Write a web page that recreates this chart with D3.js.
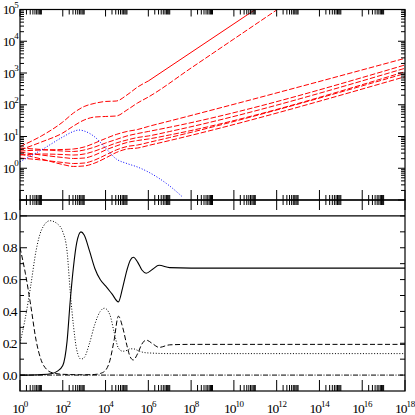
<!DOCTYPE html>
<html>
<head>
<meta charset="utf-8">
<script src="https://cdn.jsdelivr.net/npm/d3@7"></script>
<style>
body { margin: 0; background: #fff; }
svg text { font-family: "Liberation Serif", "DejaVu Serif", serif; fill: #000; }
</style>
</head>
<body>
<svg id="chart" width="415" height="415"></svg>
<script>
// ---- top panel (log-log) ----
var xBundle = [1, 10, 100, 316, 1000, 3162, 1e4, 3.16e4, 1e5, 3.16e5, 1e6, 1e7, 1e18];
var yC1 = [3.49, 3.76, 3.90, 4.04, 4.67, 6.24, 8.65, 11.6, 14.4, 16.6, 20.7, 30.8, 2900];
var yC2 = [4.34, 3.90, 3.49, 3.37, 3.76, 4.67, 6.24, 8.05, 10.4, 12.4, 14.4, 19.6, 1790];
var yC3 = [2.61, 2.81, 2.71, 2.61, 2.81, 3.49, 4.67, 6.24, 7.76, 9.30, 10.4, 14.4, 1410];
var yC4 = [3.25, 2.61, 2.18, 2.03, 2.10, 2.61, 3.76, 5.02, 6.47, 7.48, 8.34, 11.2, 1100];
var yC5 = [2.10, 1.82, 1.52, 1.41, 1.46, 1.82, 2.61, 3.76, 4.84, 5.40, 6.47, 9.30, 964];
var yC6 = [2.81, 1.96, 1.31, 1.14, 1.18, 1.46, 2.10, 3.13, 4.04, 4.34, 5.21, 7.48, 764];

var xUpperA = [1, 10, 100, 316, 1000, 3162, 1e4, 3.16e4, 1e5, 3.16e5, 1e6];
var yUpperA = [4.84, 10.4, 28.6, 55.0, 88.1, 111, 127, 131, 203, 362, 560];
var xUpperB = [1, 10, 100, 316, 1000, 3162, 1e4, 3.16e4, 1e5, 3.16e5, 1e6, 1e8, 1e10, 1e13];
var yUpperB = [3.76, 6.71, 12.9, 21.4, 33.1, 41.1, 42.7, 44.2, 68.3, 114, 175, 1437, 11770, 2.76e5];
var xSolidRed = [1e6, 1e12];
var ySolidRed = [560, 2.82e5];

var xBlue = [1, 10, 100, 316, 562, 1000, 3162, 1e4, 3.16e4, 1e5, 3.16e5, 1e6, 1e7, 4e7];
var yBlue = [1.61, 3.76, 9.64, 14.4, 16.0, 14.9, 9.64, 4.34, 1.96, 1.41, 1.09, 0.762, 0.276, 0.124];

// ---- bottom panel (fractions) ----
var xSolidK = [1, 10, 31.6, 56.2, 100, 158, 224, 316, 447, 708, 1000, 1778, 3162, 5623, 1e4, 19953,
  39811, 63096, 1e5, 141254, 199526, 316228, 501187, 794328, 1584893, 3162278, 1e7, 1e8, 1e18];
var ySolidK = [0.0, 0.003, 0.01, 0.025, 0.06, 0.21, 0.47, 0.68, 0.83, 0.90, 0.88, 0.78, 0.67, 0.60, 0.56, 0.51,
  0.46, 0.55, 0.66, 0.72, 0.74, 0.71, 0.66, 0.64, 0.665, 0.69, 0.675, 0.672, 0.672];

var xDotK = [1, 1.78, 3.16, 5.62, 10, 25.1, 56.2, 100, 158, 224, 316, 447, 708, 1000, 1778, 3162, 5623, 8913,
  15849, 25119, 39811, 63096, 1e5, 141254, 199526, 316228, 501187, 794328, 1584893, 3162278, 1e7, 1e18];
var yDotK = [0.20, 0.36, 0.56, 0.78, 0.91, 0.97, 0.95, 0.90, 0.78, 0.52, 0.31, 0.16, 0.10, 0.11, 0.20, 0.32, 0.40, 0.42,
  0.38, 0.27, 0.17, 0.15, 0.155, 0.165, 0.165, 0.155, 0.145, 0.14, 0.138, 0.136, 0.135, 0.135];

var xDashK = [1, 1.78, 3.16, 5.62, 10, 17.8, 31.6, 100, 1000, 3162, 5623, 1e4, 15849, 25119, 39811, 63096, 1e5,
  141254, 199526, 316228, 501187, 794328, 1584893, 3162278, 1e7, 1e8, 1e18];
var yDashK = [0.80, 0.64, 0.44, 0.22, 0.09, 0.035, 0.015, 0.005, 0.002, 0.004, 0.01, 0.03, 0.09, 0.22, 0.37, 0.30, 0.185,
  0.115, 0.095, 0.135, 0.195, 0.22, 0.197, 0.174, 0.19, 0.193, 0.193];

var xFlat = [1, 1e18];
var yZero = [0, 0];
var yOne = [1, 1];

// axis labels
var xLabelExp = ["0", "2", "4", "6", "8", "10", "12", "14", "16", "18"];
var yTopLabelExp = ["0", "1", "2", "3", "4", "5"];
var yBotLabels = ["0.0", "0.2", "0.4", "0.6", "0.8", "1.0"];

var left = 20, right = 405, topY = 9.5, midY = 200, botY = 391;

var x = d3.scaleLog().domain([1, 1e18]).range([left, right]);
var yTop = d3.scaleLog().domain([0.1, 1e5]).range([midY, topY]);
var yBot = d3.scaleLinear().domain([-0.1, 1.1]).range([botY, midY]);

var svg = d3.select("#chart");
var defs = svg.append("defs");
defs.append("clipPath").attr("id", "clipTop").append("rect")
  .attr("x", left).attr("y", topY).attr("width", right - left).attr("height", midY - topY);
defs.append("clipPath").attr("id", "clipBot").append("rect")
  .attr("x", left).attr("y", midY).attr("width", right - left).attr("height", botY - midY);

function drawLine(g, xs, ys, yScale, color, width, dash) {
  var line = d3.line()
    .x(function(d) { return x(d[0]); })
    .y(function(d) { return yScale(d[1]); })
    .curve(d3.curveMonotoneX);
  g.append("path")
    .datum(d3.zip(xs, ys))
    .attr("d", line)
    .attr("fill", "none")
    .attr("stroke", color)
    .attr("stroke-width", width)
    .attr("stroke-dasharray", dash);
}

// top panel curves
var gTop = svg.append("g").attr("clip-path", "url(#clipTop)");
var red = "#ff0000", redDash = "5.5,2";
[yC1, yC2, yC3, yC4, yC5, yC6].forEach(function(ys) {
  drawLine(gTop, xBundle, ys, yTop, red, 1, redDash);
});
drawLine(gTop, xUpperA, yUpperA, yTop, red, 1, redDash);
drawLine(gTop, xUpperB, yUpperB, yTop, red, 1, redDash);
drawLine(gTop, xSolidRed, ySolidRed, yTop, red, 1, null);
drawLine(gTop, xBlue, yBlue, yTop, "#0000ff", 1, "1,1.8");

// bottom panel curves
var gBot = svg.append("g").attr("clip-path", "url(#clipBot)");
drawLine(gBot, xFlat, yOne, yBot, "#000", 1.4, null);
drawLine(gBot, xFlat, yZero, yBot, "#000", 1, "5,1.5,1,1.5");
drawLine(gBot, xDotK, yDotK, yBot, "#000", 1, "1,1.8");
drawLine(gBot, xDashK, yDashK, yBot, "#000", 1, "5,2.5");
drawLine(gBot, xSolidK, ySolidK, yBot, "#000", 1.1, null);

// ticks
var xMajor = [], xMinor = [];
for (var n = 0; n <= 18; n += 2) xMajor.push(Math.pow(10, n));
for (var n2 = 0; n2 < 18; n2 += 2)
  for (var k = 2; k <= 10; k++) xMinor.push(k * Math.pow(10, n2));

var yTopMajor = [], yTopMinor = [];
for (var e = -1; e <= 5; e++) yTopMajor.push(Math.pow(10, e));
for (var e2 = -1; e2 < 5; e2++)
  for (var k2 = 2; k2 <= 9; k2++) yTopMinor.push(k2 * Math.pow(10, e2));

var yBotMajor = [0, 0.2, 0.4, 0.6, 0.8, 1.0];
var yBotMinor = [0.1, 0.3, 0.5, 0.7, 0.9];

var gAx = svg.append("g").attr("stroke", "#000").attr("stroke-width", 1);
function xTicks(y, vals, up, down) {
  gAx.append("g").selectAll("line").data(vals).enter().append("line")
    .attr("x1", function(d) { return x(d); }).attr("x2", function(d) { return x(d); })
    .attr("y1", y - up).attr("y2", y + down);
}
function yTicks(scale, vals, xPos, len) {
  gAx.append("g").selectAll("line").data(vals).enter().append("line")
    .attr("y1", function(d) { return scale(d); }).attr("y2", function(d) { return scale(d); })
    .attr("x1", xPos).attr("x2", xPos + len);
}

xTicks(topY, xMajor, 0, 7);
xTicks(topY, xMinor, 0, 5);
xTicks(midY, xMajor, 10, 10);
xTicks(midY, xMinor, 5, 5);
xTicks(botY, xMajor, 11, 0);
xTicks(botY, xMinor, 6, 0);

yTicks(yTop, yTopMajor, left, 7);
yTicks(yTop, yTopMinor, left, 4);
yTicks(yTop, yTopMajor, right, -7);
yTicks(yTop, yTopMinor, right, -4);

yTicks(yBot, yBotMajor, left, 7);
yTicks(yBot, yBotMinor, left, 4);
yTicks(yBot, yBotMajor.concat(yBotMinor), right, -5);

// frames
svg.append("rect").attr("x", left).attr("y", topY).attr("width", right - left).attr("height", midY - topY)
  .attr("fill", "none").attr("stroke", "#000").attr("stroke-width", 1.2);
svg.append("rect").attr("x", left).attr("y", midY).attr("width", right - left).attr("height", botY - midY)
  .attr("fill", "none").attr("stroke", "#000").attr("stroke-width", 1.2);

// labels
function powLabel(g, xPos, yPos, exp, anchor) {
  var t = g.append("text").attr("x", xPos).attr("y", yPos)
    .attr("text-anchor", anchor).style("font-size", "13.5px").style("letter-spacing", "-1px");
  t.append("tspan").text("10");
  t.append("tspan").attr("dy", -6.5).style("font-size", "9px").style("letter-spacing", "-0.3px").text(exp);
}

var gLab = svg.append("g");
xLabelExp.forEach(function(ex) {
  powLabel(gLab, x(Math.pow(10, +ex)), 413, ex, "middle");
});
yTopLabelExp.forEach(function(ex) {
  powLabel(gLab, 18.5, yTop(Math.pow(10, +ex)) + 4.5, ex, "end");
});
yBotLabels.forEach(function(s) {
  gLab.append("text").attr("x", 16.5).attr("y", yBot(+s) + 4.5)
    .attr("text-anchor", "end").style("font-size", "13.5px").style("letter-spacing", "-1px")
    .text(s);
});
</script>
</body>
</html>
